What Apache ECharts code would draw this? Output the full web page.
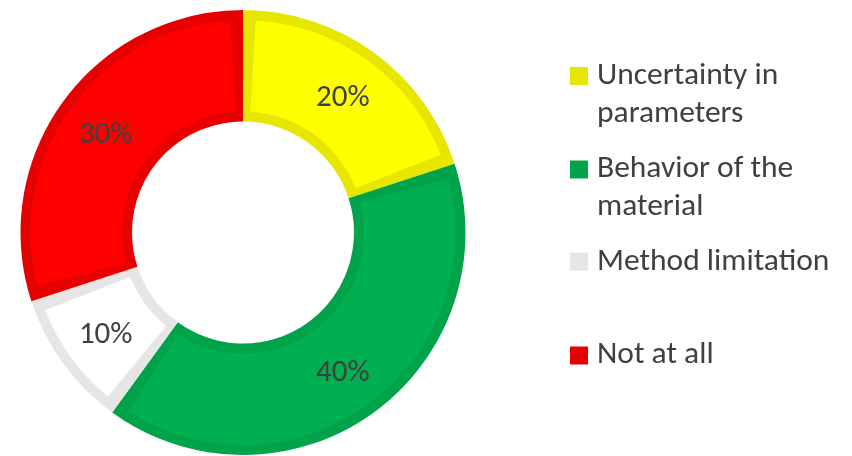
<!DOCTYPE html>
<html>
<head>
<meta charset="utf-8">
<script src="https://cdn.jsdelivr.net/npm/echarts@6/dist/echarts.min.js"></script>
<style>
  html, body { margin: 0; padding: 0; background: #ffffff; }
  #chart { width: 852px; height: 456px; }
</style>
</head>
<body>
<div id="chart"></div>
<script>
// Answer categories and their shares (percent)
const categories = ['Uncertainty in parameters', 'Behavior of the material', 'Method limitation', 'Not at all'];
const shares = [20, 40, 10, 30];
// Legend text as it wraps on the right
const legendText = ['Uncertainty in\nparameters', 'Behavior of the\nmaterial', 'Method limitation', 'Not at all'];
// Slice fill and outline colours
const fillColors = ['#FFFF00', '#00B050', '#FFFFFF', '#FF0000'];
const edgeColors = ['#E6E600', '#00A24A', '#E6E6E6', '#E60000'];

const FONT = 'Carlito, Lato, sans-serif';
const TEXT = '#404040';
const CX = 243, CY = 232.5, R_OUT = 222.5, R_IN = 111, EDGE = 10;

const chart = echarts.init(document.getElementById('chart'), null, { renderer: 'canvas' });

// Outline ring: full-size slices in the darker colour
const outline = categories.map((n, i) => ({ name: n, value: shares[i], itemStyle: { color: edgeColors[i] } }));
// Fill ring: inset slices in the main colour
const fills = categories.map((n, i) => ({ name: n, value: shares[i], itemStyle: { color: fillColors[i] } }));

const legendTops = [19, 112.5, 242.7, 336.5];
const legends = categories.map((n, i) => ({
  orient: 'vertical',
  left: 570,
  top: legendTops[i],
  padding: 0,
  icon: 'rect',
  itemWidth: 18,
  itemHeight: 18,
  selectedMode: false,
  data: [{ name: n, itemStyle: { color: edgeColors[i] } }],
  formatter: () => (legendText[i].indexOf('\n') >= 0 ? '\n' : '') + legendText[i],
  textStyle: { fontFamily: FONT, fontSize: 31.5, color: TEXT, lineHeight: 38, padding: [0, 0, 0, 4] }
}));

chart.setOption({
  animation: false,
  backgroundColor: '#ffffff',
  legend: legends,
  series: [
    {
      type: 'pie',
      center: [CX, CY],
      radius: [R_IN, R_OUT],
      startAngle: 90,
      clockwise: true,
      silent: true,
      label: { show: false },
      labelLine: { show: false },
      emphasis: { disabled: true },
      data: outline
    },
    {
      type: 'pie',
      center: [CX, CY],
      radius: [R_IN + EDGE, R_OUT - EDGE],
      startAngle: 90,
      clockwise: true,
      padAngle: (2 * EDGE) / ((R_IN + R_OUT) / 2) * 180 / Math.PI,
      silent: true,
      emphasis: { disabled: true },
      labelLine: { show: false },
      label: {
        show: true,
        position: 'inside',
        formatter: p => p.value + '%',
        fontFamily: FONT,
        fontSize: 31,
        color: TEXT,
        offset: [0, 3]
      },
      data: fills
    }
  ]
});
</script>
</body>
</html>
